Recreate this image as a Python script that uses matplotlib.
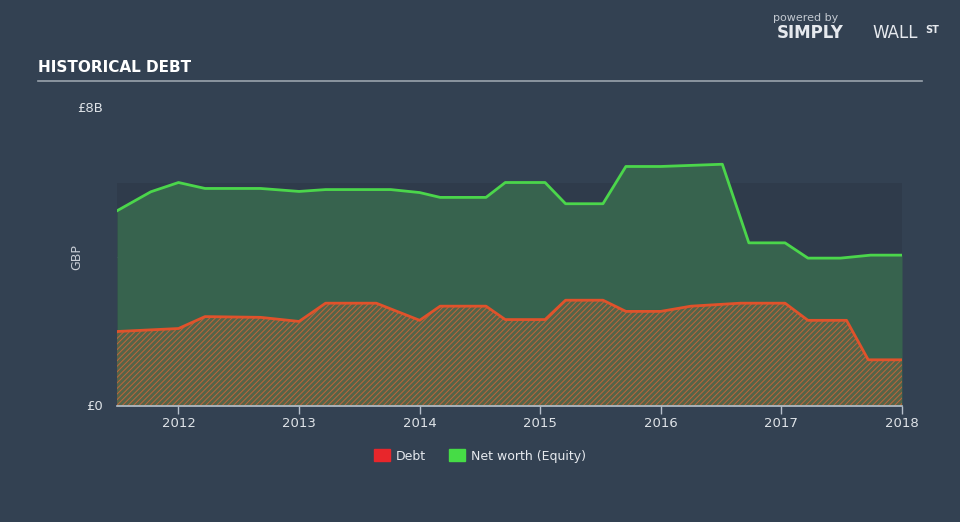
import matplotlib.pyplot as plt
import matplotlib as mpl

#Data (years as decimals, values in billions GBP)
equity_t = [2011.49, 2011.77, 2012.0, 2012.22, 2012.68, 2013.0, 2013.22, 2013.76, 2014.0,
            2014.17, 2014.55, 2014.71, 2015.04, 2015.21, 2015.52, 2015.71, 2016.0, 2016.51,
            2016.73, 2017.03, 2017.22, 2017.49, 2017.74, 2018.0]
equity_v = [5.24, 5.75, 6.0, 5.84, 5.84, 5.76, 5.81, 5.81, 5.73,
            5.6, 5.6, 6.0, 6.0, 5.43, 5.43, 6.43, 6.43, 6.49,
            4.38, 4.38, 3.97, 3.97, 4.05, 4.05]

debt_t = [2011.49, 2012.0, 2012.22, 2012.68, 2013.0, 2013.22, 2013.64, 2014.0, 2014.17,
          2014.55, 2014.71, 2015.04, 2015.21, 2015.52, 2015.71, 2016.0, 2016.25, 2016.66,
          2017.03, 2017.22, 2017.54, 2017.72, 2018.0]
debt_v = [2.0, 2.08, 2.4, 2.38, 2.27, 2.76, 2.76, 2.3, 2.68,
          2.68, 2.32, 2.32, 2.84, 2.84, 2.54, 2.54, 2.68, 2.76,
          2.76, 2.3, 2.3, 1.24, 1.24]

year_ticks = [2012, 2013, 2014, 2015, 2016, 2017, 2018]

#Colours
bg = "#334152"
band = "#2f3b4b"
eq_line = "#4bd64b"
eq_fill = "#37634e"
debt_line = "#e0522b"

mpl.rcParams['hatch.linewidth'] = 0.7

fig = plt.figure(figsize=(9.6, 5.22), dpi=100, facecolor=bg)
ax = fig.add_axes([117/960, 1-406/522, 785/960, 298/522])
ax.set_facecolor(bg)

#Darker plot band and faint gridline
ax.axhspan(0, 6, color=band, zorder=0, lw=0)
ax.axhline(4, color="#3f4c5c", lw=0.8, zorder=0.5)

#Net worth area
ax.fill_between(equity_t, 0, equity_v, color=eq_fill, lw=0, zorder=1)
ax.plot(equity_t, equity_v, color=eq_line, lw=2, zorder=3)

#Debt area with hatching
ax.fill_between(debt_t, 0, debt_v, facecolor="#556448", edgecolor="#c0643a",
                hatch="//////", lw=0, zorder=2)
ax.plot(debt_t, debt_v, color=debt_line, lw=2, zorder=3)

ax.set_xlim(2011.49, 2018.0)
ax.set_ylim(0, 8)

#Axes style
for s in ["top", "right", "left"]:
    ax.spines[s].set_visible(False)
ax.spines["bottom"].set_color("#b7c0cc")
ax.spines["bottom"].set_linewidth(1.2)
ax.spines["bottom"].set_zorder(4)

ax.set_xticks(year_ticks)
ax.set_xticklabels([str(y) for y in year_ticks])
ax.tick_params(axis="x", colors="#b7c0cc", labelcolor="#dfe3e8", length=6, width=1,
               labelsize=9.5, pad=2)
ax.set_yticks([0, 8])
ax.set_yticklabels(["£0", "£8B"])
ax.tick_params(axis="y", length=0, labelcolor="#dfe3e8", labelsize=9.5, pad=10)
for lab in ax.get_yticklabels():
    lab.set_verticalalignment("center")
ax.set_ylabel("GBP", color="#c9ced6", fontsize=9)
ax.yaxis.set_label_coords(-0.043, 0.5)

#Title and underline
fig.text(38/960, 1-68/522, "HISTORICAL DEBT", color="white", fontsize=11,
         fontweight="bold", va="center")
fig.add_artist(plt.Line2D([38/960, 922/960], [1-81/522, 1-81/522], color="#9aa3ad", lw=1.2))

#Legend
handles = [mpl.patches.Patch(color="#e8262b", label="Debt"),
           mpl.patches.Patch(color="#46dc46", label="Net worth (Equity)")]
leg = fig.legend(handles=handles, loc="center", bbox_to_anchor=(480/960, 1-456/522), ncol=2,
                 frameon=False, fontsize=9, handlelength=1.3, handleheight=1.1,
                 columnspacing=1.8, handletextpad=0.5)
for t in leg.get_texts():
    t.set_color("#e6e9ee")

#Logo text
fig.text(806/960, 1-18/522, "powered by", color="#c3c9d1", fontsize=8, ha="center", va="center")
fig.text(810/960, 1-33/522, "SIMPLY", color="#e6e9ee", fontsize=12, fontweight="bold",
         ha="center", va="center")
fig.text(895/960, 1-33/522, "WALL", color="#e6e9ee", fontsize=12, ha="center", va="center")
fig.text(932/960, 1-30/522, "ST", color="#e6e9ee", fontsize=7, fontweight="bold",
         ha="center", va="center")

fig.savefig("out.png", dpi=100, facecolor=bg)
